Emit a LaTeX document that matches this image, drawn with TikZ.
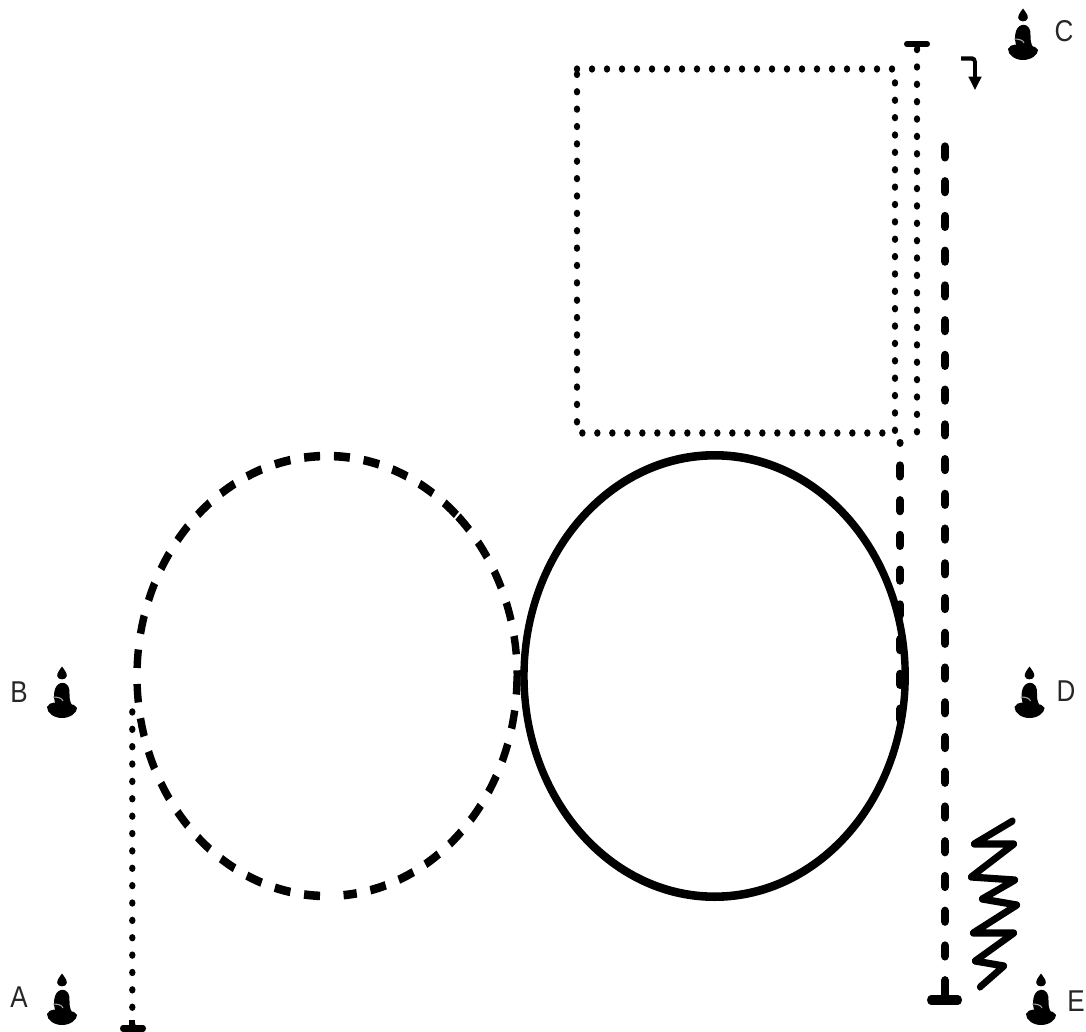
\documentclass[tikz,border=0pt]{standalone}
\usepackage{fontspec}
\setmainfont{Liberation Sans}
\usetikzlibrary{arrows.meta}
\tikzset{
  dotline/.style={line width=6.4pt,line cap=round,dash pattern=on 0pt off 15pt},
  dashline/.style={line width=7.2pt,line cap=round,dash pattern=on 9.4pt off 20.6pt},
  dashell/.style={line width=7.4pt,dash pattern=on 16pt off 13.845pt},
  dashsym/.style={line width=7.4pt,dash pattern=on 0pt off 6.92pt on 16pt off 6.925pt},
  solidell/.style={line width=7.4pt},
  barline/.style={line width=6pt,line cap=round},
  zig/.style={line width=6.2pt,line join=round,line cap=round},
  lab/.style={font=\fontsize{26}{26}\selectfont,text=black!85,inner sep=0pt},
  pics/lamp/.style={code={
    \fill[black] (0,-43.5) .. controls (2.5,-40) and (5,-37) .. (4.8,-34) .. controls (4,-29.5) and (-4,-29.5) .. (-4.8,-34) .. controls (-5,-37) and (-2.5,-40) .. (0,-43.5);
    \fill[black] (-1,-27) .. controls (6,-28) and (8,-22) .. (7.5,-16) .. controls (7.3,-12) and (8,-8) .. (10,-5) .. controls (4,-3) and (-4,-4) .. (-6.5,-6) .. controls (-9,-12) and (-9,-25) .. (-1,-27);
    \fill[black] (-15,-3) .. controls (-12,-9) and (-5,-8) .. (0,-5) .. controls (5,-4) and (10,-9) .. (15,-2) .. controls (15,3) and (8,8) .. (0,8) .. controls (-8,8) and (-15,3) .. (-15,-3);
    \draw[black!35,line width=1.1pt] (-9,-13) .. controls (-4,-13) and (0,-12) .. (1,-9);
  }}
}
\begin{document}
\begin{tikzpicture}[x=1pt,y=-1pt]
\useasboundingbox (0,0) rectangle (1086,1032);
\fill[white] (0,0) rectangle (1086,1032);
% lamps
\pic at (62,1017) {lamp};
\pic at (62,710) {lamp};
\pic at (1023,52) {lamp};
\pic at (1029.5,710) {lamp};
\pic at (1041,1017) {lamp};
\begin{scope}[x=1pt,y=-0.86356pt,transform canvas={yscale=1.158}]
% named points
\coordinate (aEnd) at (132.3,1024.6);
\coordinate (aTop) at (132.3,709);
\coordinate (sqTL) at (577,69);
\coordinate (sqTR) at (895,69);
\coordinate (sqBR) at (895,433);
\coordinate (sqBL) at (577,433);
\coordinate (cBar) at (917,49.6);
\coordinate (cLow) at (917,434);
\coordinate (eTop) at (945,146.5);
\coordinate (eBar) at (945,998);
\coordinate (dTop) at (900,465.5);
\coordinate (dLow) at (900,725);
\coordinate (dDot) at (900,442.6);
\coordinate (lTop) at (327,456);
\coordinate (lKink) at (458,516.5);
\coordinate (lRight) at (517,676);
\coordinate (sLeft) at (524,676);
% ellipses
\draw[dashsym] (lTop) arc[start angle=90,end angle=270,radius=190pt];
\draw[dashsym] (lTop) arc[start angle=90,end angle=46.5,radius=190pt];
\draw[dashell] (lKink) arc[start angle=46.5,end angle=0,radius=190pt];
\draw[dashell] (lRight) arc[start angle=0,end angle=-85,radius=190pt];
\draw[solidell] (sLeft) arc[start angle=180,end angle=-180,radius=190.6pt];
% dotted
\draw[dotline] (aEnd) -- (aTop);
\draw[dotline] (sqTL) -- (sqTR) -- (sqBR) -- (sqBL) -- cycle;
\draw[dotline] (cBar) -- (cLow);
% dashed verticals
\draw[dashline] (eTop) -- (eBar);
\draw[line width=7pt,line cap=round] (dDot) -- ++(0.1,0);
\draw[dashline] (dTop) -- (dLow);
% end bars
\draw[barline] (123,1028.5) -- (143,1028.5);
\draw[barline] (907,44) -- (927,44);
\draw[barline,line width=8pt] (931,1000) -- (958,1000);
\draw[line width=5pt] (917,44) -- (917,50);
\draw[line width=6pt] (132.3,1020) -- (132.3,1028);
\draw[line width=7.2pt] (945,982) -- (945,1000);
% small arrow
\coordinate (arS) at (961,58.5);
\coordinate (arC) at (975,58.5);
\coordinate (arE) at (975,90);
\draw[line width=3.8pt,rounded corners=3pt,-{Triangle[length=11.5pt,width=12.5pt]}] (arS) -- (arC) -- (arE);
% zigzag
\draw[zig] (1012.5,821) -- (974,844) -- (1014,844) -- (971,877) -- (1015,880) -- (982,899) -- (1017,905) -- (973,933) -- (1014,933) -- (975,961) -- (1004,966) -- (980,987);
% labels
\node[lab] (A) at (19,997) {A};
\node[lab] (B) at (19,692) {B};
\node[lab] (C) at (1064,31) {C};
\node[lab] (D) at (1066,691) {D};
\node[lab,anchor=east] (E) at (1085,1001) {E};
\end{scope}
\end{tikzpicture}
\end{document}
